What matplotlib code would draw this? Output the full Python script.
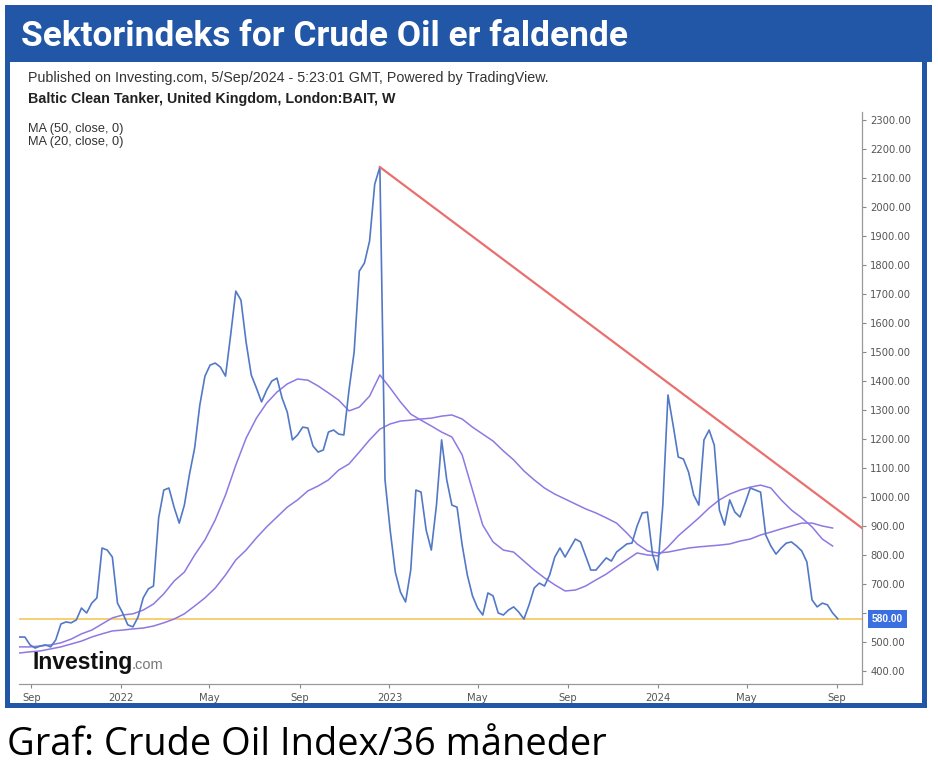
import matplotlib.pyplot as plt
import matplotlib.patches as mpatches
import matplotlib.transforms as mtransforms
import pandas as pd

# weekly closes, Baltic Clean Tanker index
weeks = pd.date_range('2021-08-16', periods=160, freq='7D')
close = [517, 517, 490, 479, 486, 490, 483, 507, 562, 569,
         566, 576, 617, 600, 634, 652, 824, 817, 793, 634,
         600, 559, 552, 586, 652, 683, 693, 928, 1024, 1031,
         965, 910, 972, 1079, 1169, 1317, 1417, 1455, 1462, 1448,
         1417, 1559, 1710, 1679, 1534, 1421, 1376, 1328, 1369, 1400,
         1410, 1341, 1293, 1197, 1214, 1241, 1238, 1176, 1155, 1162,
         1224, 1231, 1217, 1214, 1369, 1500, 1779, 1807, 1883, 2079,
         2138, 1059, 886, 741, 672, 638, 748, 1024, 1017, 886,
         817, 972, 1197, 1059, 972, 965, 834, 731, 659, 617,
         593, 669, 659, 600, 593, 610, 621, 603, 579, 628,
         686, 703, 693, 731, 793, 824, 793, 824, 855, 845,
         797, 748, 748, 769, 790, 779, 810, 824, 838, 841,
         900, 945, 948, 803, 748, 972, 1352, 1248, 1138, 1131,
         1086, 1007, 972, 1197, 1231, 1179, 955, 903, 990, 948,
         931, 979, 1031, 1024, 1017, 869, 831, 803, 824, 841,
         845, 831, 814, 776, 645, 621, 634, 628, 600, 580]

# moving averages read every second week
ma_dates = pd.date_range('2021-08-16', periods=80, freq='14D')
ma20 = [483, 483, 486, 490, 497, 510, 528, 541, 562, 583,
        593, 597, 610, 631, 666, 710, 741, 800, 852, 921,
        1007, 1110, 1203, 1272, 1324, 1362, 1390, 1407, 1403, 1383,
        1359, 1334, 1297, 1310, 1348, 1421, 1376, 1328, 1286, 1265,
        1245, 1224, 1207, 1145, 1024, 903, 845, 817, 810, 779,
        748, 721, 697, 676, 679, 693, 714, 734, 759, 783,
        807, 800, 797, 828, 866, 897, 928, 962, 990, 1010,
        1024, 1034, 1041, 1031, 990, 955, 928, 897, 855, 831]
ma50 = [462, 466, 469, 476, 483, 493, 503, 517, 528, 538,
        541, 545, 548, 555, 566, 579, 597, 624, 652, 686,
        731, 783, 817, 859, 897, 931, 965, 990, 1021, 1038,
        1059, 1093, 1114, 1155, 1197, 1234, 1252, 1262, 1265, 1269,
        1272, 1279, 1283, 1269, 1241, 1217, 1193, 1159, 1128, 1090,
        1059, 1031, 1010, 993, 976, 959, 945, 928, 910, 876,
        838, 814, 807, 810, 817, 824, 828, 831, 834, 838,
        848, 855, 869, 879, 890, 900, 910, 910, 900, 893]

trend_dates = pd.to_datetime(['2022-12-19', '2024-10-05'])
trend_vals = [2138, 893]
support = 580

tick_dates = pd.to_datetime(['2021-09-01', '2022-01-01', '2022-05-01', '2022-09-01',
                             '2023-01-01', '2023-05-01', '2023-09-01', '2024-01-01',
                             '2024-05-01', '2024-09-01'])
tick_labels = ['Sep', '2022', 'May', 'Sep', '2023', 'May', 'Sep', '2024', 'May', 'Sep']
yticks = list(range(400, 2301, 100))

W, H = 938, 781
fig = plt.figure(figsize=(W / 100, H / 100), dpi=100)

def px(x0, y0, x1, y1):
    return (x0 / W, 1 - y1 / H), (x1 - x0) / W, (y1 - y0) / H

blue = '#2256a6'
for (xy, w, h), c in [(px(5, 60, 927, 708), blue), (px(10, 62, 922, 703), 'white'),
                      (px(5, 5, 932, 62), blue)]:
    fig.add_artist(mpatches.Rectangle(xy, w, h, transform=fig.transFigure,
                                      facecolor=c, edgecolor='none', zorder=0))

fig.text(21 / W, 1 - 37 / H, 'Sektorindeks for Crude Oil er faldende', color='white',
         fontsize=25.4, fontweight='bold', va='center', ha='left', family='Roboto')
fig.text(7 / W, 1 - 745 / H, 'Graf: Crude Oil Index/36 måneder', color='black',
         fontsize=27.4, va='center', ha='left', family='Open Sans')

sans = 'Liberation Sans'
fig.text(28 / W, 1 - 78 / H, 'Published on Investing.com, 5/Sep/2024 - 5:23:01 GMT, Powered by TradingView.',
         fontsize=10.3, color='#333333', va='center', family=sans)
fig.text(28 / W, 1 - 99 / H, 'Baltic Clean Tanker, United Kingdom, London:BAIT, W',
         fontsize=10.3, color='#222222', va='center', family=sans, fontweight='bold')
fig.text(28 / W, 1 - 129 / H, 'MA (50, close, 0)', fontsize=9.2, color='#333333', va='center', family=sans)
fig.text(28 / W, 1 - 142 / H, 'MA (20, close, 0)', fontsize=9.2, color='#333333', va='center', family=sans)

ax = fig.add_axes([19 / W, 1 - 684 / H, (862 - 19) / W, (684 - 112) / H])
ax.set_facecolor('white')
ax.plot(weeks, close, color='#5278c6', lw=1.2, zorder=4)
ax.plot(ma_dates, ma20, color='#8f78e2', lw=1.1, zorder=3)
ax.plot(ma_dates, ma50, color='#8f78e2', lw=1.1, zorder=3)
ax.plot(trend_dates, trend_vals, color='#ea6f6f', lw=1.6, zorder=5)
ax.axhline(support, color='#f6c75a', lw=1.2, zorder=2)

ax.set_xlim(pd.Timestamp('2021-08-15'), pd.Timestamp('2024-10-05'))
ax.set_ylim(355, 2328)

ax.yaxis.tick_right()
ax.set_yticks(yticks)
# the price label box covers the 600 tick label
ax.set_yticklabels(['' if v == 600 else f'{v:.2f}' for v in yticks])
ax.set_xticks(tick_dates)
ax.set_xticklabels(tick_labels)
ax.tick_params(axis='both', colors='#888888', labelcolor='#555555', labelsize=7.2,
               length=3, width=0.8)
ax.tick_params(axis='y', pad=3)
for s in ['top', 'left']:
    ax.spines[s].set_visible(False)
for s in ['bottom', 'right']:
    ax.spines[s].set_color('#999999')
    ax.spines[s].set_linewidth(0.9)

trans = mtransforms.blended_transform_factory(ax.transAxes, ax.transData)
ax.text(1.012, support, f'{support:.2f}', transform=trans, ha='left', va='center',
        fontsize=7.4, color='white', fontweight='bold', family=sans, clip_on=False,
        bbox=dict(boxstyle='square,pad=0.4', facecolor='#3b6ee0', edgecolor='none'))

# logo
fig.text(32 / W, 1 - 662 / H, 'Investing', fontsize=16.5, fontweight='bold', color='#111111',
         va='center', family=sans)
fig.text(132 / W, 1 - 665 / H, '.com', fontsize=10.5, color='#777777', va='center', family=sans)

fig.savefig('out.png', dpi=100)
